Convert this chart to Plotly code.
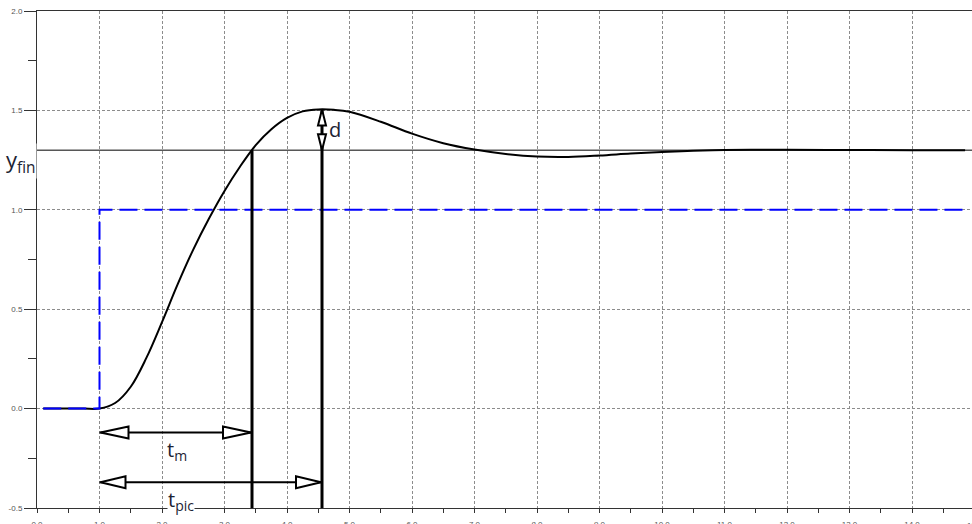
import plotly.graph_objects as go

# Step response of a second-order system (output y) to a unit step (input u)
t_resp = [0.1, 0.25, 0.5, 0.75, 1.0, 1.25, 1.5, 1.75, 2.0, 2.25, 2.5, 2.75,
          3.0, 3.25, 3.5, 3.75, 4.0, 4.25, 4.5, 4.75, 5.0, 5.5, 6.0, 6.5, 7.0,
          7.5, 8.0, 8.5, 9.0, 9.5, 10.0, 10.5, 11.0, 11.5, 12.0, 13.0, 14.0,
          14.85]
y_resp = [0.0, 0.0, 0.0, 0.0, 0.0, 0.028, 0.11, 0.255, 0.435, 0.625, 0.80,
          0.955, 1.095, 1.218, 1.325, 1.405, 1.462, 1.495, 1.505, 1.503,
          1.493, 1.443, 1.383, 1.335, 1.303, 1.281, 1.268, 1.266, 1.273,
          1.283, 1.291, 1.297, 1.301, 1.302, 1.302, 1.301, 1.300, 1.300]

t_step = [0.1, 1.0, 1.0, 14.85]
u_step = [0.0, 0.0, 1.0, 1.0]

# Characteristic values
y_fin = 1.3        # final value
t_start = 1.0      # step instant
t_rise = 3.44      # first crossing of y_fin (t_m)
t_peak = 4.56      # instant of the overshoot peak (t_pic)
y_peak = 1.505     # peak value
y_arrow_m = -0.12
y_arrow_pic = -0.37

x_range = [0.0, 14.96]
y_range = [-0.5, 2.0]

x_tick_vals = list(range(0, 15))
x_tick_text = [f"{v:.1f}" for v in x_tick_vals]
x_minor_vals = [v + 0.5 for v in range(0, 15)]
y_tick_vals = [-0.5, 0.0, 0.5, 1.0, 1.5, 2.0]
y_tick_text = ["-0.5", "0.0", "0.5", "1.0", "1.5", "2.0"]
y_minor_vals = [-0.25, 0.25, 0.75, 1.25, 1.75]

INK = "#1c2333"
TEXT_FONT = "Open Sans"
TICK_FONT = dict(family="Liberation Sans", size=8, color="#555")

fig = go.Figure()

fig.add_trace(go.Scatter(
    x=t_resp, y=y_resp, mode="lines",
    line=dict(color="black", width=2, shape="spline", smoothing=1.0),
    hoverinfo="skip", showlegend=False,
))
fig.add_trace(go.Scatter(
    x=t_step, y=u_step, mode="lines",
    line=dict(color="#0000ff", width=2, dash="18px,7px"),
    hoverinfo="skip", showlegend=False,
))


def seg(x0, y0, x1, y1, width):
    return dict(type="line", xref="x", yref="y", x0=x0, y0=y0, x1=x1, y1=y1,
                line=dict(color="black", width=width), layer="above")


def head(xa, ya, path):
    return dict(type="path", xref="x", yref="y",
                xsizemode="pixel", ysizemode="pixel",
                xanchor=xa, yanchor=ya, path=path,
                fillcolor="white", line=dict(color="black", width=2),
                layer="above")


shapes = [
    # final value reference line
    dict(type="line", xref="x", yref="y", x0=x_range[0], x1=x_range[1],
         y0=y_fin, y1=y_fin, line=dict(color="black", width=1), layer="below"),
    # vertical markers
    seg(t_rise, y_range[0], t_rise, y_fin, 3),
    seg(t_peak, y_range[0], t_peak, y_peak, 3),
    # horizontal arrow shafts
    seg(t_start, y_arrow_m, t_rise, y_arrow_m, 2),
    seg(t_start, y_arrow_pic, t_peak, y_arrow_pic, 2),
    # arrow heads (open triangles)
    head(t_start, y_arrow_m, "M 1 0 L 29 6 L 29 -6 Z"),
    head(t_rise, y_arrow_m, "M -1 0 L -29 6 L -29 -6 Z"),
    head(t_start, y_arrow_pic, "M 1 0 L 26 6 L 26 -6 Z"),
    head(t_peak, y_arrow_pic, "M -1 0 L -26 6 L -26 -6 Z"),
    head(t_peak, y_peak, "M 0 0 L -4 -16 L 4 -16 Z"),
    head(t_peak, y_fin, "M 0 0 L -4 16 L 4 16 Z"),
]

annotations = [
    dict(text="y<sub>fin</sub>", xref="paper", yref="y", x=0, y=y_fin,
         xanchor="right", yanchor="top", xshift=0, yshift=7, showarrow=False,
         bgcolor="white", borderpad=0,
         font=dict(family=TEXT_FONT, size=22, color=INK)),
    dict(text="t<sub>m</sub>", xref="x", yref="y", x=2.05, y=-0.21,
         xanchor="left", yanchor="middle", showarrow=False,
         font=dict(family=TEXT_FONT, size=20, color=INK)),
    dict(text="t<sub>pic</sub>", xref="x", yref="y", x=2.08, y=y_range[0],
         xanchor="left", yanchor="bottom", yshift=-8, showarrow=False,
         bgcolor="white", borderpad=0,
         font=dict(family=TEXT_FONT, size=20, color=INK)),
    dict(text="d", xref="x", yref="y", x=4.64, y=1.405,
         xanchor="left", yanchor="middle", showarrow=False,
         font=dict(family=TEXT_FONT, size=20, color=INK)),
    # last x tick label, centred just beyond the right edge
    dict(text="15.0", xref="paper", yref="paper",
         x=(15 - x_range[0]) / (x_range[1] - x_range[0]),
         y=0, xanchor="center", yanchor="top", yshift=-11, showarrow=False,
         font=TICK_FONT),
]

axis_common = dict(
    showline=True, linecolor="#333", linewidth=1,
    showgrid=True, gridcolor="#8c8c8c", gridwidth=1, griddash="3px,2px",
    zeroline=False, ticks="outside", tickcolor="#333", tickwidth=1,
    tickfont=TICK_FONT, automargin=False,
)

fig.update_layout(
    width=972, height=524,
    margin=dict(l=37, r=0, t=11, b=16, autoexpand=False),
    paper_bgcolor="white", plot_bgcolor="white",
    showlegend=False,
    shapes=shapes, annotations=annotations,
    xaxis=dict(range=x_range, tickmode="array", tickvals=x_tick_vals,
               ticktext=x_tick_text, ticklen=4, mirror=True,
               ticklabelstandoff=4,
               minor=dict(tickmode="array", tickvals=x_minor_vals,
                          ticks="outside", ticklen=4, tickcolor="#333",
                          showgrid=False),
               **axis_common),
    yaxis=dict(range=y_range, tickmode="array", tickvals=y_tick_vals,
               ticktext=y_tick_text, ticklen=12,
               minor=dict(tickmode="array", tickvals=y_minor_vals,
                          ticks="outside", ticklen=8, tickcolor="#333",
                          showgrid=False),
               **axis_common),
)

fig.write_html("out.html")
